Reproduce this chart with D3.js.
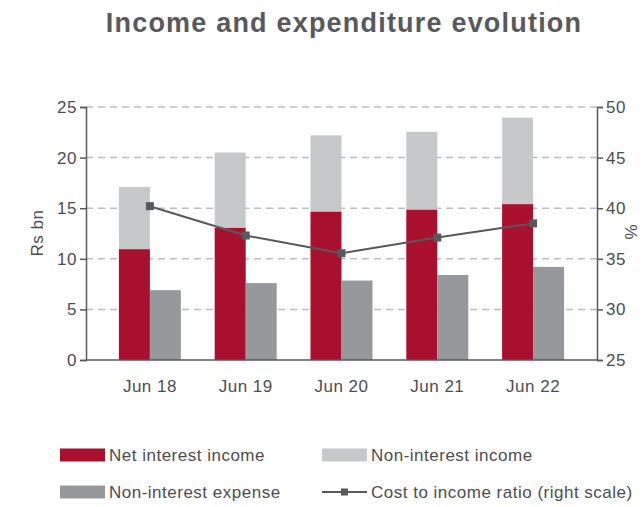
<!DOCTYPE html>
<html><head><meta charset="utf-8">
<script src="https://cdn.jsdelivr.net/npm/d3@7"></script>
<style>body{margin:0;background:#fff;} svg{font-family:"Liberation Sans",Arial,Helvetica,sans-serif;}</style>
</head><body><svg id="c" width="642" height="507"></svg>
<script>
const categories = ["Jun 18","Jun 19","Jun 20","Jun 21","Jun 22"];
const netInterestIncome = [10.95, 13.05, 14.65, 14.85, 15.4];
const nonInterestIncome = [6.15, 7.45, 7.55, 7.7, 8.55];
const nonInterestExpense = [6.9, 7.6, 7.85, 8.4, 9.2];
const costIncomeRatio = [40.2, 37.3, 35.55, 37.1, 38.5];
const leftTicks = [0,5,10,15,20,25];
const rightTicks = [25,30,35,40,45,50];

const svg = d3.select("#c");
const L = 86, R = 597, T = 107, B = 360;
const textCol = "#4d4d4f";
const cRed = "#a8102d", cLight = "#c7c8ca", cDark = "#97989b", cLine = "#58595b";
const FS = 17, LS = 0.5;

const x = d3.scaleBand().domain(categories).range([102, 581]);
const y = d3.scaleLinear().domain([0,25]).range([B,T]);
const y2 = d3.scaleLinear().domain([25,50]).range([B,T]);

svg.append("text").attr("x",344).attr("y",32).attr("text-anchor","middle")
  .attr("font-size",27).attr("font-weight","bold").attr("fill",cLine)
  .attr("letter-spacing",1.2)
  .text("Income and expenditure evolution");

// gridlines
svg.append("g").selectAll("line").data(leftTicks.filter(d=>d>0)).join("line")
  .attr("x1",L).attr("x2",R).attr("y1",d=>y(d)).attr("y2",d=>y(d))
  .attr("stroke","#bdbdbf").attr("stroke-width",1.5).attr("stroke-dasharray","7,5");

const bw = 31;
const g = svg.append("g");
categories.forEach((c,i)=>{
  const cx = x(c) + x.bandwidth()/2;
  g.append("rect").attr("x",cx-bw).attr("width",bw)
    .attr("y",y(netInterestIncome[i]+nonInterestIncome[i]))
    .attr("height",y(netInterestIncome[i])-y(netInterestIncome[i]+nonInterestIncome[i]))
    .attr("fill",cLight);
  g.append("rect").attr("x",cx-bw).attr("width",bw)
    .attr("y",y(netInterestIncome[i])).attr("height",B-y(netInterestIncome[i]))
    .attr("fill",cRed);
  g.append("rect").attr("x",cx).attr("width",bw)
    .attr("y",y(nonInterestExpense[i])).attr("height",B-y(nonInterestExpense[i]))
    .attr("fill",cDark);
});

// line
const line = d3.line().x((d,i)=>x(categories[i])+x.bandwidth()/2).y(d=>y2(d));
svg.append("path").datum(costIncomeRatio).attr("d",line).attr("fill","none")
  .attr("stroke",cLine).attr("stroke-width",2);
svg.append("g").selectAll("rect").data(costIncomeRatio).join("rect")
  .attr("x",(d,i)=>x(categories[i])+x.bandwidth()/2-4).attr("y",d=>y2(d)-4)
  .attr("width",8).attr("height",8).attr("fill",cLine);

// axes
const axL = svg.append("g").attr("transform",`translate(${L},0)`)
  .call(d3.axisLeft(y).tickValues(leftTicks).tickSize(6).tickPadding(3));
const axR = svg.append("g").attr("transform",`translate(${R},0)`)
  .call(d3.axisRight(y2).tickValues(rightTicks).tickSize(6).tickPadding(3));
const axB = svg.append("g").attr("transform",`translate(0,${B})`)
  .call(d3.axisBottom(x).tickSize(0).tickPadding(20));
axB.select(".domain").attr("d",`M${L},0H${R}`);
[axL,axR,axB].forEach(a=>{
  a.selectAll("path.domain").attr("stroke","#58595b").attr("stroke-width",1.5);
  a.selectAll(".tick line").attr("stroke","#58595b").attr("stroke-width",1.5);
  a.selectAll("text").attr("font-size",FS).attr("letter-spacing",LS).attr("fill",textCol)
    .attr("font-family","Liberation Sans, Arial, sans-serif");
});
axB.selectAll("text").attr("dy","0.71em");

svg.append("text").attr("transform","translate(43,233) rotate(-90)")
  .attr("text-anchor","middle").attr("font-size",FS).attr("letter-spacing",LS).attr("fill",textCol).text("Rs bn");
svg.append("text").attr("transform","translate(637,232) rotate(-90)")
  .attr("text-anchor","middle").attr("font-size",FS).attr("fill",textCol).text("%");

// legend
const legend = [
  {label:"Net interest income", type:"rect", color:cRed, x:60, y:455},
  {label:"Non-interest income", type:"rect", color:cLight, x:322, y:455},
  {label:"Non-interest expense", type:"rect", color:cDark, x:60, y:492},
  {label:"Cost to income ratio (right scale)", type:"line", color:cLine, x:322, y:492}
];
legend.forEach(d=>{
  if(d.type==="rect"){
    svg.append("rect").attr("x",d.x).attr("y",d.y-6.5).attr("width",45).attr("height",13).attr("fill",d.color);
  } else {
    svg.append("line").attr("x1",d.x).attr("x2",d.x+45).attr("y1",d.y).attr("y2",d.y).attr("stroke",d.color).attr("stroke-width",2);
    svg.append("rect").attr("x",d.x+22.5-3.5).attr("y",d.y-3.5).attr("width",7).attr("height",7).attr("fill",d.color);
  }
  svg.append("text").attr("x",d.x+49).attr("y",d.y).attr("dy","0.35em")
    .attr("font-size",FS).attr("letter-spacing",LS).attr("fill",textCol).text(d.label);
});
</script></body></html>
